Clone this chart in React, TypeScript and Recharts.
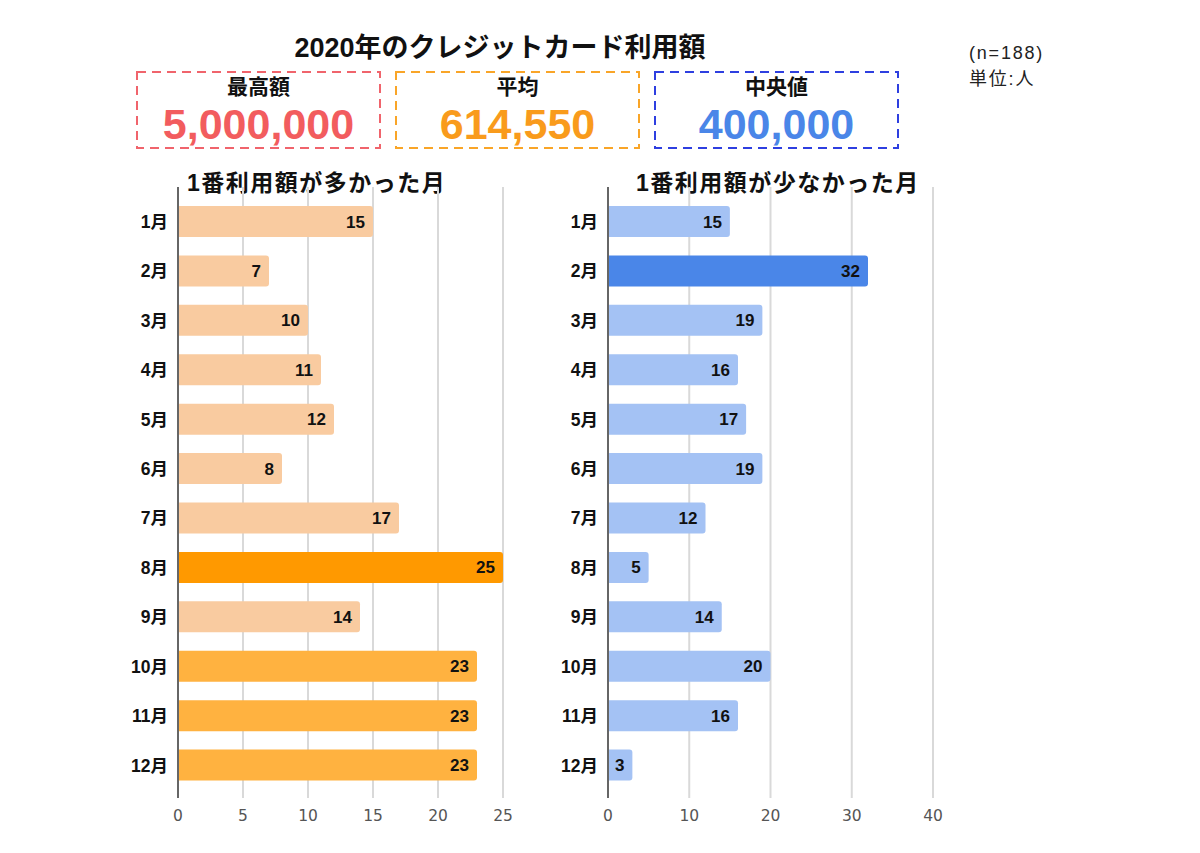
import React from 'react'
import { BarChart, Bar, XAxis, YAxis, CartesianGrid, Cell, LabelList } from 'recharts'

const months = ['1月', '2月', '3月', '4月', '5月', '6月', '7月', '8月', '9月', '10月', '11月', '12月']
const mostUsed = [15, 7, 10, 11, 12, 8, 17, 25, 14, 23, 23, 23]
const leastUsed = [15, 32, 19, 16, 17, 19, 12, 5, 14, 20, 16, 3]
const leftTicks = [0, 5, 10, 15, 20, 25]
const rightTicks = [0, 10, 20, 30, 40]

const summary = [
  { label: '最高額', value: '5,000,000' },
  { label: '平均', value: '614,550' },
  { label: '中央値', value: '400,000' },
]

const boxColors = [
  { border: '#F0646C', text: '#F25C5E' },
  { border: '#F9A528', text: '#F99B1C' },
  { border: '#2E3FE0', text: '#4A86E8' },
]

const FONT = "'Liberation Sans', 'Noto Sans CJK JP', sans-serif"

const leftData = months.map((m, i) => ({ month: m, value: mostUsed[i] }))
const rightData = months.map((m, i) => ({ month: m, value: leastUsed[i] }))

function leftFill(m: string) {
  if (m === '8月') return '#FF9900'
  if (m === '10月' || m === '11月' || m === '12月') return '#FFB240'
  return '#F9CBA0'
}

function rightFill(m: string) {
  if (m === '2月') return '#4A86E8'
  return '#A4C2F4'
}

function MonthChart({ data, fill, ticks, max }: any) {
  return (
    <BarChart
      width={440}
      height={660}
      data={data}
      layout="vertical"
      margin={{ top: 7, right: 37, bottom: 12, left: 8 }}
    >
      <CartesianGrid horizontal={false} stroke="#d9d9d9" strokeWidth={2} />
      <XAxis
        type="number"
        domain={[0, max]}
        ticks={ticks}
        axisLine={false}
        tickLine={false}
        tickMargin={6}
        height={30}
        tick={{ fill: '#555', fontSize: 15.5, fontFamily: "'DejaVu Sans', sans-serif" }}
      />
      <YAxis
        type="category"
        dataKey="month"
        width={70}
        padding={{ top: 10, bottom: 8 }}
        axisLine={{ stroke: '#666', strokeWidth: 2 }}
        tickLine={false}
        tickMargin={4}
        tick={{ fill: '#111', fontSize: 17.5, fontWeight: 'bold', fontFamily: FONT }}
      />
      <Bar dataKey="value" barSize={31} radius={[0, 3, 3, 0]} isAnimationActive={false}>
        {data.map((d: any) => (
          <Cell key={d.month} fill={fill(d.month)} />
        ))}
        <LabelList
          dataKey="value"
          position="insideRight"
          offset={8}
          fill="#111"
          fontSize={17}
          fontWeight="bold"
          fontFamily={FONT}
        />
      </Bar>
    </BarChart>
  )
}

export default function App() {
  return (
    <div style={{ position: 'absolute', left: 0, top: 0, width: 1200, height: 853, background: '#fff', fontFamily: FONT }}>
      <div style={{ position: 'absolute', left: 200, width: 600, top: 30, lineHeight: '36px', textAlign: 'center', fontSize: 27, fontWeight: 'bold', color: '#111' }}>
        2020年のクレジットカード利用額
      </div>
      <div style={{ position: 'absolute', left: 969, top: 40, fontSize: 18, letterSpacing: 1.8, color: '#222', lineHeight: '26px' }}>
        (n=188)<br />単位:人
      </div>
      {summary.map((s, i) => (
        <div key={s.label} style={{ position: 'absolute', left: 136 + i * 259, top: 71, width: 245, height: 78 }}>
          <svg width={245} height={78} style={{ position: 'absolute', left: 0, top: 0 }}>
            <rect x={1} y={1} width={243} height={76} fill="none" stroke={boxColors[i].border} strokeWidth={2} strokeDasharray="9 6" />
          </svg>
          <div style={{ position: 'absolute', left: 0, width: 245, top: 5, lineHeight: '22px', textAlign: 'center', fontSize: 21, fontWeight: 'bold', color: '#111' }}>
            {s.label}
          </div>
          <div style={{ position: 'absolute', left: 0, width: 245, top: 30, lineHeight: '46px', textAlign: 'center', fontSize: 43, fontWeight: 'bold', color: boxColors[i].text }}>
            {s.value}
          </div>
        </div>
      ))}
      <div style={{ position: 'absolute', left: 187, top: 170, lineHeight: '26px', fontSize: 23, letterSpacing: 1.5, fontWeight: 'bold', color: '#111' }}>
        1番利用額が多かった月
      </div>
      <div style={{ position: 'absolute', left: 636, top: 170, lineHeight: '26px', fontSize: 23, letterSpacing: 1.5, fontWeight: 'bold', color: '#111' }}>
        1番利用額が少なかった月
      </div>
      <div style={{ position: 'absolute', left: 100, top: 180 }}>
        <MonthChart data={leftData} fill={leftFill} ticks={leftTicks} max={25} />
      </div>
      <div style={{ position: 'absolute', left: 530, top: 180 }}>
        <MonthChart data={rightData} fill={rightFill} ticks={rightTicks} max={40} />
      </div>
    </div>
  )
}
